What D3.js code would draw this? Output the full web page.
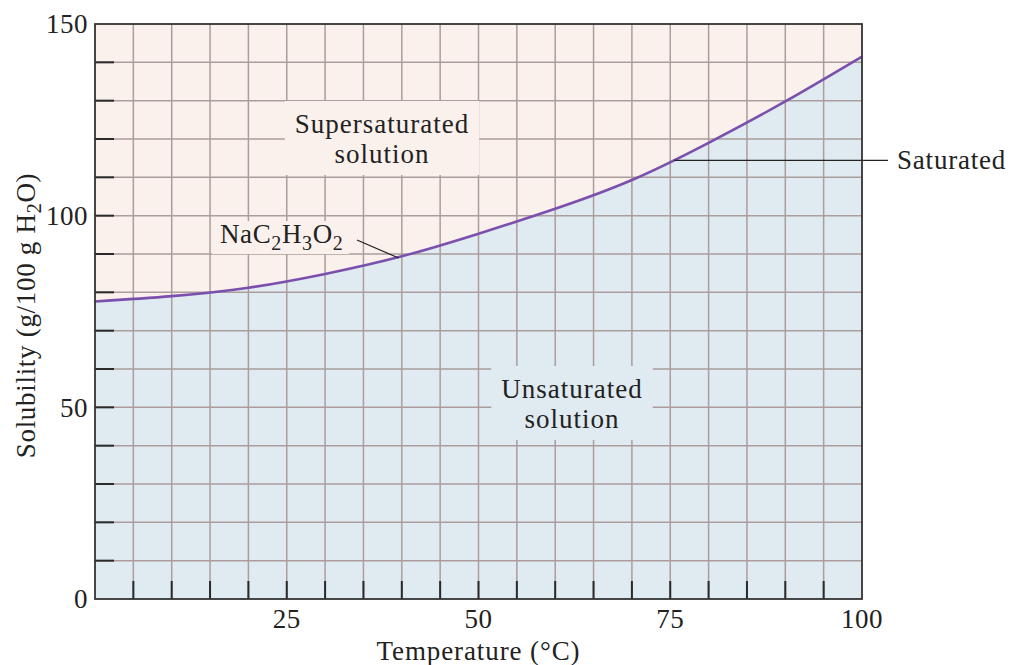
<!DOCTYPE html>
<html>
<head>
<meta charset="utf-8">
<script src="https://cdn.jsdelivr.net/npm/d3@7"></script>
<style>
  html, body { margin: 0; padding: 0; background: #ffffff; }
  svg text { font-family: "Liberation Serif", "Times New Roman", serif; fill: #222; }
</style>
</head>
<body>
<svg id="chart" width="1014" height="665"></svg>
<script>
// ---- data ----
const temperatures = [0, 10, 20, 30, 40, 50, 60, 70, 80, 90, 100];
const solubility   = [77.6, 79.0, 81.2, 84.8, 89.4, 95.3, 101.8, 109.3, 119.0, 129.8, 141.5];
const xTickLabels = [25, 50, 75, 100];
const yTickLabels = [0, 50, 100, 150];
const xMinorTicks = d3.range(5, 100, 5);
const yMinorTicks = d3.range(10, 150, 10);
const saturatedValue = 114.4; // solubility level of the "Saturated" leader line

const W = 1014, H = 665;
const margin = { left: 95, right: 1014 - 862, top: 24, bottom: 665 - 599 };
const svg = d3.select("#chart");
const FS = 27;

const x = d3.scaleLinear().domain([0, 100]).range([margin.left, W - margin.right]);
const y = d3.scaleLinear().domain([0, 150]).range([H - margin.bottom, margin.top]);

const pts = temperatures.map((t, i) => [t, solubility[i]]);
const curve = d3.curveNatural;

// regions
svg.append("rect")
  .attr("x", x(0)).attr("y", y(150))
  .attr("width", x(100) - x(0)).attr("height", y(0) - y(150))
  .attr("fill", "#fbf1ec");

const area = d3.area().x(d => x(d[0])).y0(y(0)).y1(d => y(d[1])).curve(curve);
svg.append("path").datum(pts).attr("d", area).attr("fill", "#e0ebf1");

// grid
const grid = svg.append("g").attr("stroke", "#aa9d9b").attr("stroke-width", 1.5);
grid.selectAll("line.v").data(d3.range(5, 100, 5)).join("line")
  .attr("x1", d => x(d)).attr("x2", d => x(d)).attr("y1", y(0)).attr("y2", y(150));
grid.selectAll("line.h").data(d3.range(10, 150, 10)).join("line")
  .attr("y1", d => y(d)).attr("y2", d => y(d)).attr("x1", x(0)).attr("x2", x(100));

// label boxes (cover grid)
function boxedText(lines, cx, baselines, fill) {
  const g = svg.append("g");
  const rect = g.append("rect").attr("fill", fill);
  const t = g.append("g");
  lines.forEach((s, i) => {
    t.append("text").attr("x", cx).attr("y", baselines[i])
      .attr("text-anchor", "middle").attr("font-size", FS)
      .attr("letter-spacing", 1.0).text(s);
  });
  const bb = t.node().getBBox();
  rect.attr("x", bb.x - 10).attr("y", bb.y - 8).attr("width", bb.width + 20).attr("height", bb.height + 14);
}
boxedText(["Supersaturated", "solution"], 382, [133, 163], "#fbf1ec");
boxedText(["Unsaturated", "solution"], 572, [398, 428], "#e0ebf1");

// NaC2H3O2 label
const nag = svg.append("g");
const narect = nag.append("rect").attr("fill", "#fbf1ec");
const nat = nag.append("text").attr("x", 220).attr("y", 243).attr("font-size", FS).attr("letter-spacing", 0.6);
const parts = [["NaC", false], ["2", true], ["H", false], ["3", true], ["O", false], ["2", true]];
let prevSub = false;
parts.forEach(([s, sub]) => {
  nat.append("tspan").attr("font-size", sub ? 20 : FS)
    .attr("dy", sub ? 7 : (prevSub ? -7 : 0)).text(s);
  prevSub = sub;
});
{
  const bb = nat.node().getBBox();
  narect.attr("x", bb.x - 8).attr("y", bb.y + 2).attr("width", bb.width + 14).attr("height", bb.height - 2);
}

// curve
const line = d3.line().x(d => x(d[0])).y(d => y(d[1])).curve(curve);
svg.append("path").datum(pts).attr("d", line)
  .attr("fill", "none").attr("stroke", "#7b50ad").attr("stroke-width", 2.6);

// leader to NaC2H3O2
svg.append("line").attr("x1", 357).attr("y1", 240).attr("x2", x(39.6)).attr("y2", y(89.2) + 1)
  .attr("stroke", "#222").attr("stroke-width", 1.2);

// Saturated leader
svg.append("line").attr("x1", x(75.5)).attr("x2", 888)
  .attr("y1", y(saturatedValue)).attr("y2", y(saturatedValue))
  .attr("stroke", "#222").attr("stroke-width", 1.2);
svg.append("text").attr("x", 897).attr("y", y(saturatedValue)).attr("dy", "0.33em")
  .attr("font-size", FS).attr("letter-spacing", 0.8).text("Saturated");

// ticks
const tk = svg.append("g").attr("stroke", "#2a2a2a").attr("stroke-width", 2);
tk.selectAll("line.yt").data(yMinorTicks).join("line")
  .attr("x1", x(0)).attr("x2", x(0) + 19).attr("y1", d => y(d)).attr("y2", d => y(d));
tk.selectAll("line.xt").data(xMinorTicks).join("line")
  .attr("x1", d => x(d)).attr("x2", d => x(d)).attr("y1", y(0)).attr("y2", y(0) - 18);

// frame
svg.append("rect").attr("x", x(0)).attr("y", y(150))
  .attr("width", x(100) - x(0)).attr("height", y(0) - y(150))
  .attr("fill", "none").attr("stroke", "#333").attr("stroke-width", 1.8);

// tick labels
svg.selectAll("text.yl").data(yTickLabels).join("text")
  .attr("x", 88).attr("y", d => y(d)).attr("dy", "0.35em")
  .attr("text-anchor", "end").attr("font-size", FS).attr("letter-spacing", 0.5).text(d => d);
svg.selectAll("text.xl").data(xTickLabels).join("text")
  .attr("x", d => x(d)).attr("y", 628)
  .attr("text-anchor", "middle").attr("font-size", FS).attr("letter-spacing", 0.5).text(d => d);

// axis titles
svg.append("text").attr("x", (x(0) + x(100)) / 2).attr("y", 660)
  .attr("text-anchor", "middle").attr("font-size", FS).attr("letter-spacing", 0.9)
  .text("Temperature (°C)");

const yt = svg.append("text").attr("transform", `translate(35,${(y(0) + y(150)) / 2 + 4}) rotate(-90)`)
  .attr("text-anchor", "middle").attr("font-size", FS).attr("letter-spacing", 0.7);
yt.append("tspan").text("Solubility (g/100 g H");
yt.append("tspan").attr("font-size", 20).attr("dy", 6).text("2");
yt.append("tspan").attr("dy", -6).text("O)");
</script>
</body>
</html>
